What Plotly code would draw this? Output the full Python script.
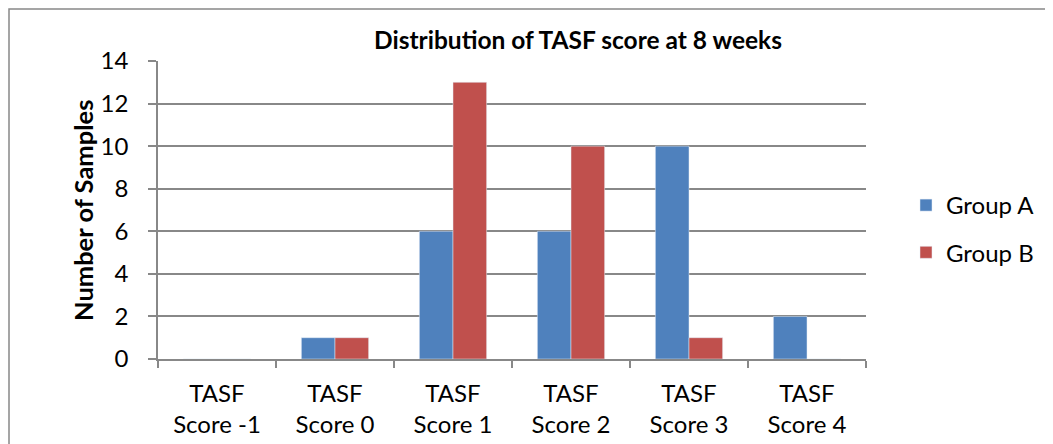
import plotly.graph_objects as go

categories = ["TASF<br>Score -1", "TASF<br>Score 0", "TASF<br>Score 1",
              "TASF<br>Score 2", "TASF<br>Score 3", "TASF<br>Score 4"]
group_a = [0, 1, 6, 6, 10, 2]
group_b = [0, 1, 13, 10, 1, 0]
y_ticks = [0, 2, 4, 6, 8, 10, 12, 14]

# page has an 8px body margin, so the figure is drawn offset by (8, 8)
OFF = 8
W, H = 1053 - OFF, 444 - OFF
L, T = 158 - OFF, 61 - OFF
R, B = W - (866 - OFF), H - (359 - OFF)
pw, ph = W - L - R, H - T - B


def px_x(x):  # page x -> paper x
    return (x - OFF - L) / pw


def px_y(y):  # page y -> paper y
    return (T + ph - (y - OFF)) / ph


FONT = "Lato, Carlito, Calibri, sans-serif"
GRID = "#888888"

fig = go.Figure()
fig.add_trace(go.Bar(x=categories, y=group_a, name="Group A",
                     marker_color="#4F81BD", legendgroup="a"))
fig.add_trace(go.Bar(x=categories, y=group_b, name="Group B",
                     marker_color="#C0504D", legendgroup="b"))

fig.update_layout(
    width=W, height=H,
    margin=dict(l=L, r=R, t=T, b=B, autoexpand=False),
    paper_bgcolor="white", plot_bgcolor="white",
    font=dict(family=FONT, size=24, color="black"),
    barmode="group", bargap=0.43, bargroupgap=0,
    title=dict(text="<b>Distribution of TASF score at 8 weeks</b>",
               x=(578 - OFF) / W, xref="container", xanchor="center",
               y=1 - (40 - OFF) / H, yref="container", yanchor="middle",
               font=dict(family=FONT, size=24.5, color="black")),
    legend=dict(x=px_x(906), xanchor="left", y=px_y(229),
                yanchor="middle",
                font=dict(family=FONT, size=24), traceorder="grouped",
                tracegroupgap=13, itemwidth=30, bgcolor="rgba(0,0,0,0)"),
    showlegend=True,
)
fig.update_xaxes(
    showline=True, linecolor=GRID, linewidth=1.5,
    ticks="outside", ticklen=7, tickcolor=GRID, tickwidth=1.5,
    tickson="boundaries", showgrid=False, automargin=False,
    ticklabelstandoff=12,
    tickfont=dict(family=FONT, size=24),
)
fig.update_yaxes(
    range=[0, 14], tickvals=y_ticks,
    showline=True, linecolor=GRID, linewidth=1.5,
    ticks="outside", ticklen=8, tickcolor=GRID, tickwidth=1.5,
    showgrid=True, gridcolor=GRID, gridwidth=1.5,
    zeroline=False, ticklabelstandoff=15, automargin=False,
    tickfont=dict(family=FONT, size=24),
)
fig.add_annotation(text="<b>Number of Samples</b>", textangle=-90,
                   xref="paper", yref="paper",
                   x=px_x(83), y=px_y(211),
                   xanchor="center", yanchor="middle", showarrow=False,
                   font=dict(family=FONT, size=25.5, color="black"))
# outer chart border
fig.add_shape(type="rect", xref="paper", yref="paper",
              x0=px_x(OFF + 1), x1=px_x(1060),
              y0=px_y(460), y1=px_y(OFF + 1),
              line=dict(color="#888888", width=1.5), layer="below")

fig.write_html("out.html")
